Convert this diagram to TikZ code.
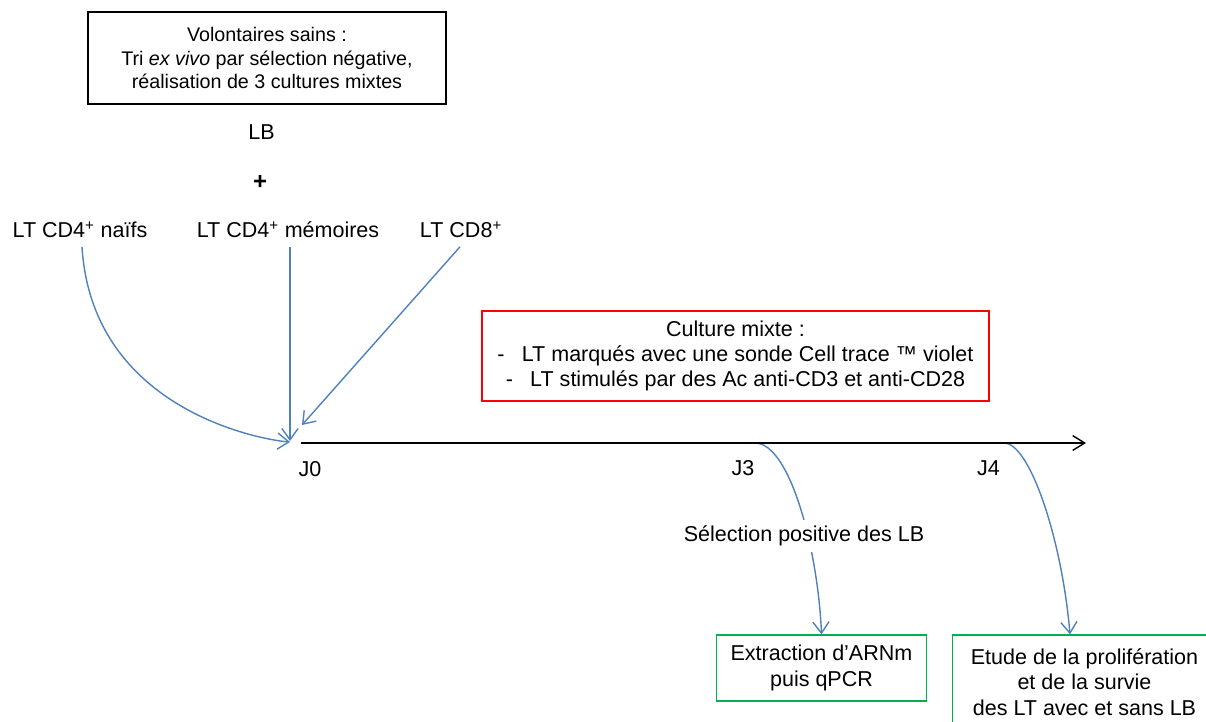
\documentclass[tikz,border=0pt]{standalone}
\usepackage{fontspec}
\setmainfont{Liberation Sans}
\usetikzlibrary{arrows.meta}
\definecolor{bleufl}{RGB}{79,129,189}
\definecolor{vertbox}{RGB}{0,176,80}

\begin{document}
\begin{tikzpicture}[x=0.025cm,y=-0.025cm,
  txt/.style={font=\fontsize{15.3}{18}\selectfont,align=center,inner sep=1pt},
  boite/.style={txt,draw,line width=0.9pt},
  fb/.style={bleufl,line width=1pt,-{Straight Barb[length=8pt,width=11.5pt]}}]
\useasboundingbox (0,0) rectangle (1206,722);
% boites
\node[boite,font=\fontsize{14}{17}\selectfont,minimum width=8.95cm,minimum height=2.3cm] (volont) at (267,58)
  {Volontaires sains :\\Tri \textit{ex vivo} par sélection négative,\\réalisation de 3 cultures mixtes};
\node[boite,red,text=black,minimum width=12.67cm,minimum height=2.25cm] (culture) at (735.5,356)
  {Culture mixte :\\-\hspace{0.8em}LT marqués avec une sonde Cell trace ™ violet\\-\hspace{0.8em}LT stimulés par des Ac anti-CD3 et anti-CD28};
\node[boite,vertbox,text=black,minimum width=5.25cm,minimum height=1.65cm] (extract) at (821.5,668)
  {\raisebox{-3pt}{\parbox{5cm}{\centering Extraction d’ARNm\\puis qPCR}}};
\node[boite,vertbox,text=black,minimum width=6.6cm,minimum height=2.35cm] (etude) at (1084.5,682)
  {Etude de la prolifération\\et de la survie\\des LT avec et sans LB};
% populations
\node[txt] (lb) at (261.5,132.5) {LB};
\node[txt,font=\fontsize{17}{18}\selectfont\bfseries] (plus) at (260,182) {+};
\node[txt] (naifs) at (80,230) {LT CD4\textsuperscript{+} naïfs};
\node[txt] (memoires) at (288,230) {LT CD4\textsuperscript{+} mémoires};
\node[txt] (cd8) at (461,230) {LT CD8\textsuperscript{+}};
% axe du temps
\coordinate (t0) at (301,443);
\coordinate (t3) at (683,443);
\coordinate (t4) at (932,443);
\coordinate (tfin) at (1086,443);
\draw[fb] (naifs.south) ++(2,7) .. controls (92,410) and (262,440) .. (290,442);
\draw[fb] (memoires.south) ++(2,7) -- (290,441);
\draw[fb] (cd8.south) ++(-1,7) -- (302,425);
\draw[fb] (t3) -- (755,443) .. controls (790,443) and (818,550) .. (extract.north);
\draw[fb] (t4) -- (1004,443) .. controls (1030,443) and (1062,540) .. (etude.north -| 1070,0);
\draw[line width=1pt,-{Straight Barb[length=8.5pt,width=10.5pt]}] (t0) -- (tfin);
\node[txt] (j0) at (310,469) {J0};
\node[txt] (j3) at (743,468) {J3};
\node[txt] (j4) at (988.5,468) {J4};
\node[txt,fill=white,inner sep=4pt] (selpos) at (804,536) {Sélection positive des LB};
\end{tikzpicture}
\end{document}
